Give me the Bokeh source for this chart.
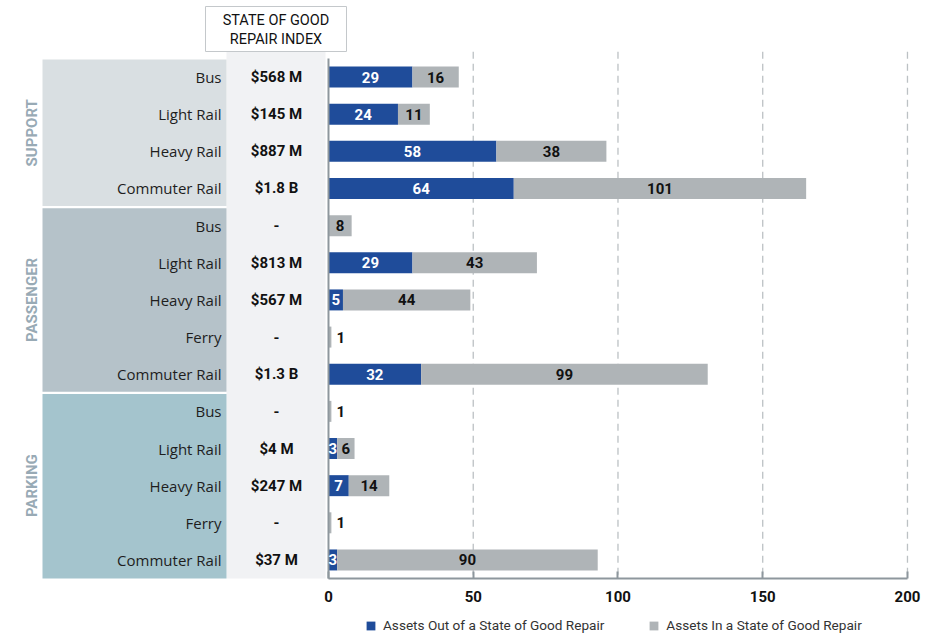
from bokeh.plotting import figure
from bokeh.models import Range1d, ColumnDataSource, LinearAxis, FixedTicker, Legend, LegendItem
from bokeh.core.properties import value
from bokeh.embed import file_html
from bokeh.resources import INLINE
import math

# ---------------- data ----------------
group_names = ["SUPPORT", "PASSENGER", "PARKING"]
group_sizes = [4, 5, 5]
modes = ["Bus", "Light Rail", "Heavy Rail", "Commuter Rail",
         "Bus", "Light Rail", "Heavy Rail", "Ferry", "Commuter Rail",
         "Bus", "Light Rail", "Heavy Rail", "Ferry", "Commuter Rail"]
sgr_index = ["$568 M", "$145 M", "$887 M", "$1.8 B",
             "-", "$813 M", "$567 M", "-", "$1.3 B",
             "-", "$4 M", "$247 M", "-", "$37 M"]
out_of_sgr = [29, 24, 58, 64, 0, 29, 5, 0, 32, 0, 3, 7, 0, 3]
in_sgr = [16, 11, 38, 101, 8, 43, 44, 1, 99, 1, 6, 14, 1, 90]
x_ticks = [0, 50, 100, 150, 200]
series_names = ["Assets Out of a State of Good Repair", "Assets In a State of Good Repair"]
header_lines = ["STATE OF GOOD", "REPAIR INDEX"]

# ---------------- styles ----------------
BLUE = "#1F4C9A"
GREY = "#AFB4B7"
BAND_COLORS = ["#D9DFE2", "#B5C2C9", "#A4C4CD"]
GROUP_TEXT = "#98AAB5"
COLUMN_BG = "#F1F2F4"
AXIS_COLOR = "#8E979D"
COND = "Roboto"
SANS = "Open Sans"

n = len(modes)
rows = list(range(n))
last_edge = n - 0.5

p = figure(frame_width=942, frame_height=633,
           x_range=Range1d(-113.3, 212.1), y_range=Range1d(14.98, -2.061),
           x_axis_location=None, y_axis_location=None,
           toolbar_location=None, output_backend="svg", min_border=0)
p.extra_x_ranges = {"px": Range1d(0, 942)}
p.extra_y_ranges = {"py": Range1d(633, 0)}
p.outline_line_color = None
p.grid.visible = False
p.background_fill_color = "white"

# value column background
p.quad(left=[226], right=[325], top=[-0.69], bottom=[last_edge], x_range_name="px",
       fill_color=COLUMN_BG, line_color=None)

# group bands
starts = []
s = 0
for size in group_sizes:
    starts.append(s)
    s += size
band_top = [st - 0.5 + 0.03 for st in starts]
band_bot = [st + sz - 0.5 - 0.03 for st, sz in zip(starts, group_sizes)]
band_bot[-1] = last_edge
band_src = ColumnDataSource(dict(top=band_top, bottom=band_bot, color=BAND_COLORS,
                                 left=[42] * 3, right=[226] * 3))
p.quad(left="left", right="right", top="top", bottom="bottom", fill_color="color",
       line_color=None, source=band_src, x_range_name="px")

# group labels
gcent = [st + (sz - 1) / 2 for st, sz in zip(starts, group_sizes)]
p.text(x=[31] * 3, y=gcent, text=group_names, angle=math.pi / 2, x_range_name="px",
       text_align="center", text_baseline="middle", text_color=GROUP_TEXT,
       text_font=value(COND), text_font_style="bold", text_font_size="15px")

# row labels
p.text(x=[221] * n, y=rows, text=modes, x_range_name="px", text_align="right",
       text_baseline="middle", text_color="#1E1E1E", text_font=value(SANS), text_font_size="15px")

# index values
p.text(x=[276] * n, y=rows, text=sgr_index, x_range_name="px", text_align="center",
       text_baseline="middle", text_color="#111111", text_font=value(COND),
       text_font_style="bold", text_font_size="15px")

# header box
p.quad(left=[205], right=[346], top=[6], bottom=[51], x_range_name="px", y_range_name="py",
       fill_color="white", line_color="#C4C8CB", line_width=1)
p.text(x=[275.5, 275.5], y=[20, 38.5], text=header_lines, x_range_name="px", y_range_name="py",
       text_align="center", text_baseline="middle", text_color="#111111",
       text_font=value(COND), text_font_size="14.5px")

# dashed gridlines
gx = x_ticks[1:]
p.segment(x0=gx, x1=gx, y0=[-0.68] * len(gx), y1=[last_edge] * len(gx),
          line_color="#BCC1C4", line_width=1.3, line_dash="7 5")

# bars
total = [o + i for o, i in zip(out_of_sgr, in_sgr)]
src = ColumnDataSource(dict(row=rows, zero=[0] * n, out=out_of_sgr, total=total))
r_out = p.hbar(y="row", left="zero", right="out", height=0.565, source=src,
               fill_color=BLUE, line_color=None)
r_in = p.hbar(y="row", left="out", right="total", height=0.565, source=src,
              fill_color=GREY, line_color=None)

# zero line
p.segment(x0=[0], x1=[0], y0=[-0.5], y1=[last_edge], line_color=AXIS_COLOR, line_width=2)

# bar labels
bx, by, bt, bc, ba, bo = [], [], [], [], [], []
for i in range(n):
    o, v = out_of_sgr[i], in_sgr[i]
    if o > 0:
        bx.append(o / 2); by.append(i); bt.append(str(o)); bc.append("white"); ba.append("center"); bo.append(0)
    if v >= 2:
        bx.append(o + v / 2); by.append(i); bt.append(str(v)); bc.append("#111111"); ba.append("center"); bo.append(0)
    elif v > 0:
        bx.append(o + v); by.append(i); bt.append(str(v)); bc.append("#111111"); ba.append("left"); bo.append(5)
lab_src = ColumnDataSource(dict(x=bx, y=by, t=bt, c=bc, a=ba, o=bo))
p.text(x="x", y="y", text="t", text_color="c", text_align="a", x_offset="o", source=lab_src,
       text_baseline="middle", text_font=value(COND), text_font_style="bold",
       text_font_size="15px")

# axis (fixed at bottom of the rows)
ax = LinearAxis(ticker=FixedTicker(ticks=x_ticks), bounds=(0, 200), fixed_location=last_edge)
ax.axis_line_color = AXIS_COLOR
ax.axis_line_width = 2
ax.major_tick_in = 7
ax.major_tick_out = 0
ax.major_tick_line_color = AXIS_COLOR
ax.major_tick_line_width = 2
ax.minor_tick_line_color = None
ax.major_label_text_font = COND
ax.major_label_text_font_style = "bold"
ax.major_label_text_font_size = "15px"
ax.major_label_text_color = "#111111"
ax.major_label_standoff = 12
p.add_layout(ax, "below")

legend = Legend(items=[LegendItem(label=series_names[0], renderers=[r_out]),
                       LegendItem(label=series_names[1], renderers=[r_in])],
                orientation="horizontal", location=(365, 0),
                glyph_width=11, glyph_height=11, label_standoff=7, spacing=44,
                padding=2, margin=0, label_height=16,
                border_line_color=None, background_fill_alpha=0,
                label_text_font=COND, label_text_font_size="13.6px",
                label_text_color="#333333")
p.add_layout(legend, "center")

open("out.html", "w").write(file_html(p, INLINE))
